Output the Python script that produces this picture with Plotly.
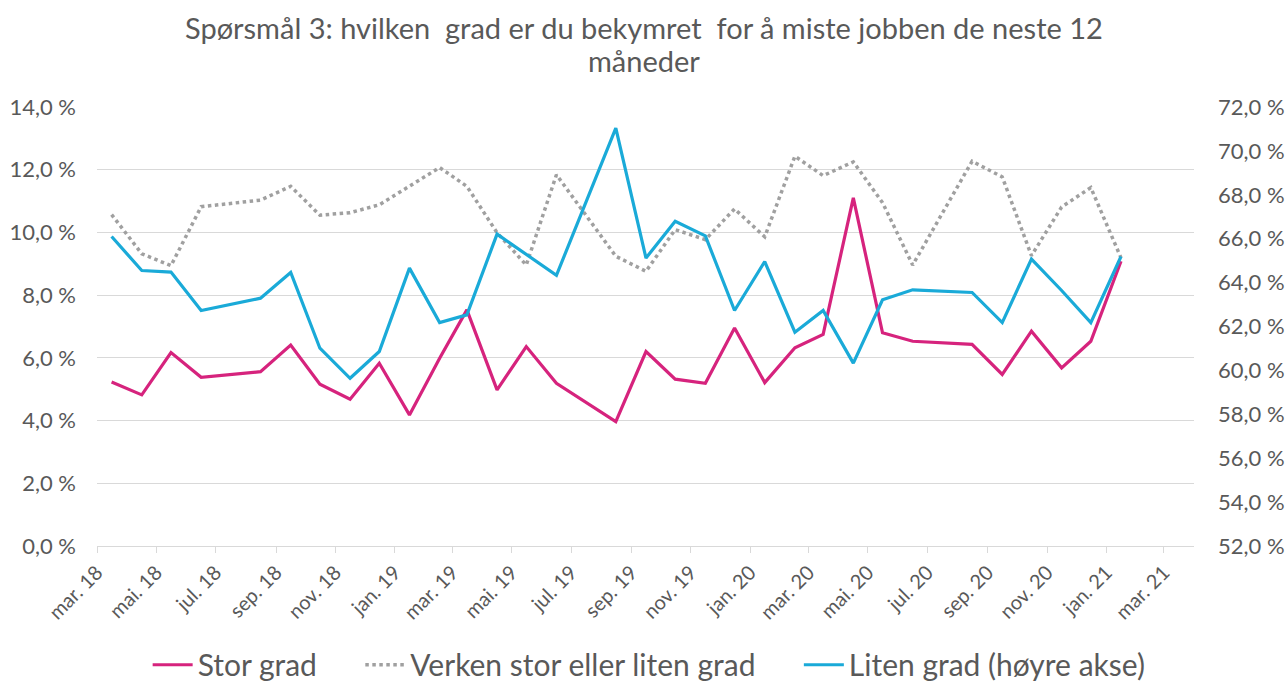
import plotly.graph_objects as go

# ---- data ----
months = ["2018-03", "2018-04", "2018-05", "2018-06", "2018-08", "2018-09", "2018-10",
          "2018-11", "2018-12", "2019-01", "2019-02", "2019-03", "2019-04", "2019-05",
          "2019-06", "2019-08", "2019-09", "2019-10", "2019-11", "2019-12", "2020-01",
          "2020-02", "2020-03", "2020-04", "2020-05", "2020-06", "2020-08", "2020-09",
          "2020-10", "2020-11", "2020-12", "2021-01"]

stor_grad = [5.23, 4.82, 6.17, 5.38, 5.56, 6.41, 5.16, 4.68, 5.83, 4.18, 5.99, 7.53,
             4.98, 6.36, 5.19, 3.97, 6.20, 5.32, 5.19, 6.95, 5.21, 6.32, 6.75, 11.10,
             6.80, 6.53, 6.43, 5.47, 6.85, 5.68, 6.53, 9.08]

verken = [10.57, 9.32, 8.94, 10.82, 11.03, 11.47, 10.55, 10.63, 10.88, 11.46, 12.07, 11.47,
          9.99, 8.96, 11.84, 9.24, 8.76, 10.09, 9.77, 10.75, 9.86, 12.43, 11.81, 12.25,
          10.95, 8.96, 12.27, 11.77, 9.26, 10.81, 11.43, 9.19]

liten_grad = [66.10, 64.55, 64.48, 62.73, 63.29, 64.46, 61.01, 59.64, 60.86, 64.66, 62.18, 62.53,
              66.21, 65.27, 64.33, 71.04, 65.12, 66.79, 66.13, 62.73, 64.96, 61.74, 62.73, 60.33,
              63.22, 63.67, 63.55, 62.18, 65.07, 63.64, 62.18, 65.19]

tick_months = ["2018-03", "2018-05", "2018-07", "2018-09", "2018-11", "2019-01", "2019-03",
               "2019-05", "2019-07", "2019-09", "2019-11", "2020-01", "2020-03", "2020-05",
               "2020-07", "2020-09", "2020-11", "2021-01", "2021-03"]
tick_labels = ["mar. 18", "mai. 18", "jul. 18", "sep. 18", "nov. 18", "jan. 19", "mar. 19",
               "mai. 19", "jul. 19", "sep. 19", "nov. 19", "jan. 20", "mar. 20", "mai. 20",
               "jul. 20", "sep. 20", "nov. 20", "jan. 21", "mar. 21"]

left_ticks = [0, 2, 4, 6, 8, 10, 12, 14]
right_ticks = [52, 54, 56, 58, 60, 62, 64, 66, 68, 70, 72]

title_lines = ["Spørsmål 3: hvilken  grad er du bekymret  for å miste jobben de neste 12",
               "måneder"]
series_names = ["Stor grad", "Verken stor eller liten grad", "Liten grad (høyre akse)"]

# ---- styling ----
FONT = "Lato"
TXT = "#595959"
GRID = "#D9D9D9"
PAD = "\u00a0" * 5

x_mid = [m + "-16" for m in months]
x_ticks = [m + "-01" for m in tick_months]


def pct(v):
    return f"{v:.1f}".replace(".", ",") + " %"


fig = go.Figure()
fig.add_trace(go.Scatter(x=x_mid, y=stor_grad, name=series_names[0] + PAD, mode="lines",
                         line=dict(color="#D6237D", width=3.2)))
fig.add_trace(go.Scatter(x=x_mid, y=verken, name=series_names[1] + PAD, mode="lines",
                         line=dict(color="#A0A0A0", width=3.5, dash="dot")))
fig.add_trace(go.Scatter(x=x_mid, y=liten_grad, name=series_names[2], mode="lines",
                         line=dict(color="#1AAAD8", width=3.2), yaxis="y2"))

for txt, yy in zip(title_lines, [1.180, 1.107]):
    fig.add_annotation(text=txt, xref="paper", yref="paper", x=0.4985, y=yy,
                       xanchor="center", yanchor="middle", showarrow=False,
                       font=dict(family=FONT, size=29, color=TXT))

fig.update_layout(
    width=1288, height=686,
    paper_bgcolor="white", plot_bgcolor="white",
    margin=dict(l=97, r=94, t=107, b=140, autoexpand=False),
    font=dict(family=FONT, color=TXT, size=20),
    xaxis=dict(type="date", range=["2018-03-01", "2021-04-01"],
               tickmode="array", tickvals=x_ticks, ticktext=tick_labels,
               tickangle=-45, ticks="outside", ticklen=6, tickcolor=GRID,
               showline=True, linecolor=GRID, linewidth=1,
               showgrid=False, zeroline=False, automargin=False,
               tickfont=dict(size=20, color=TXT)),
    yaxis=dict(range=[0, 14], tickmode="array", tickvals=left_ticks,
               ticktext=[pct(v) for v in left_ticks],
               showgrid=True, gridcolor=GRID, gridwidth=1, zeroline=False,
               showline=False, ticks="", ticklabelstandoff=20, automargin=False,
               tickfont=dict(size=22, color=TXT)),
    yaxis2=dict(range=[52, 72], overlaying="y", side="right", tickmode="array",
                tickvals=right_ticks, ticktext=[pct(v) for v in right_ticks],
                showgrid=False, zeroline=False, showline=False, ticks="",
                ticklabelstandoff=23, automargin=False,
                tickfont=dict(size=22, color=TXT)),
    legend=dict(orientation="h", x=0.504, xref="container", xanchor="center",
                y=0.031, yref="container", yanchor="middle",
                font=dict(size=30, color=TXT), itemwidth=40,
                traceorder="normal"),
    showlegend=True,
)

fig.write_html("out.html", config={"displayModeBar": False},
               post_script="document.body.style.margin='0';document.body.style.overflow='hidden';")
